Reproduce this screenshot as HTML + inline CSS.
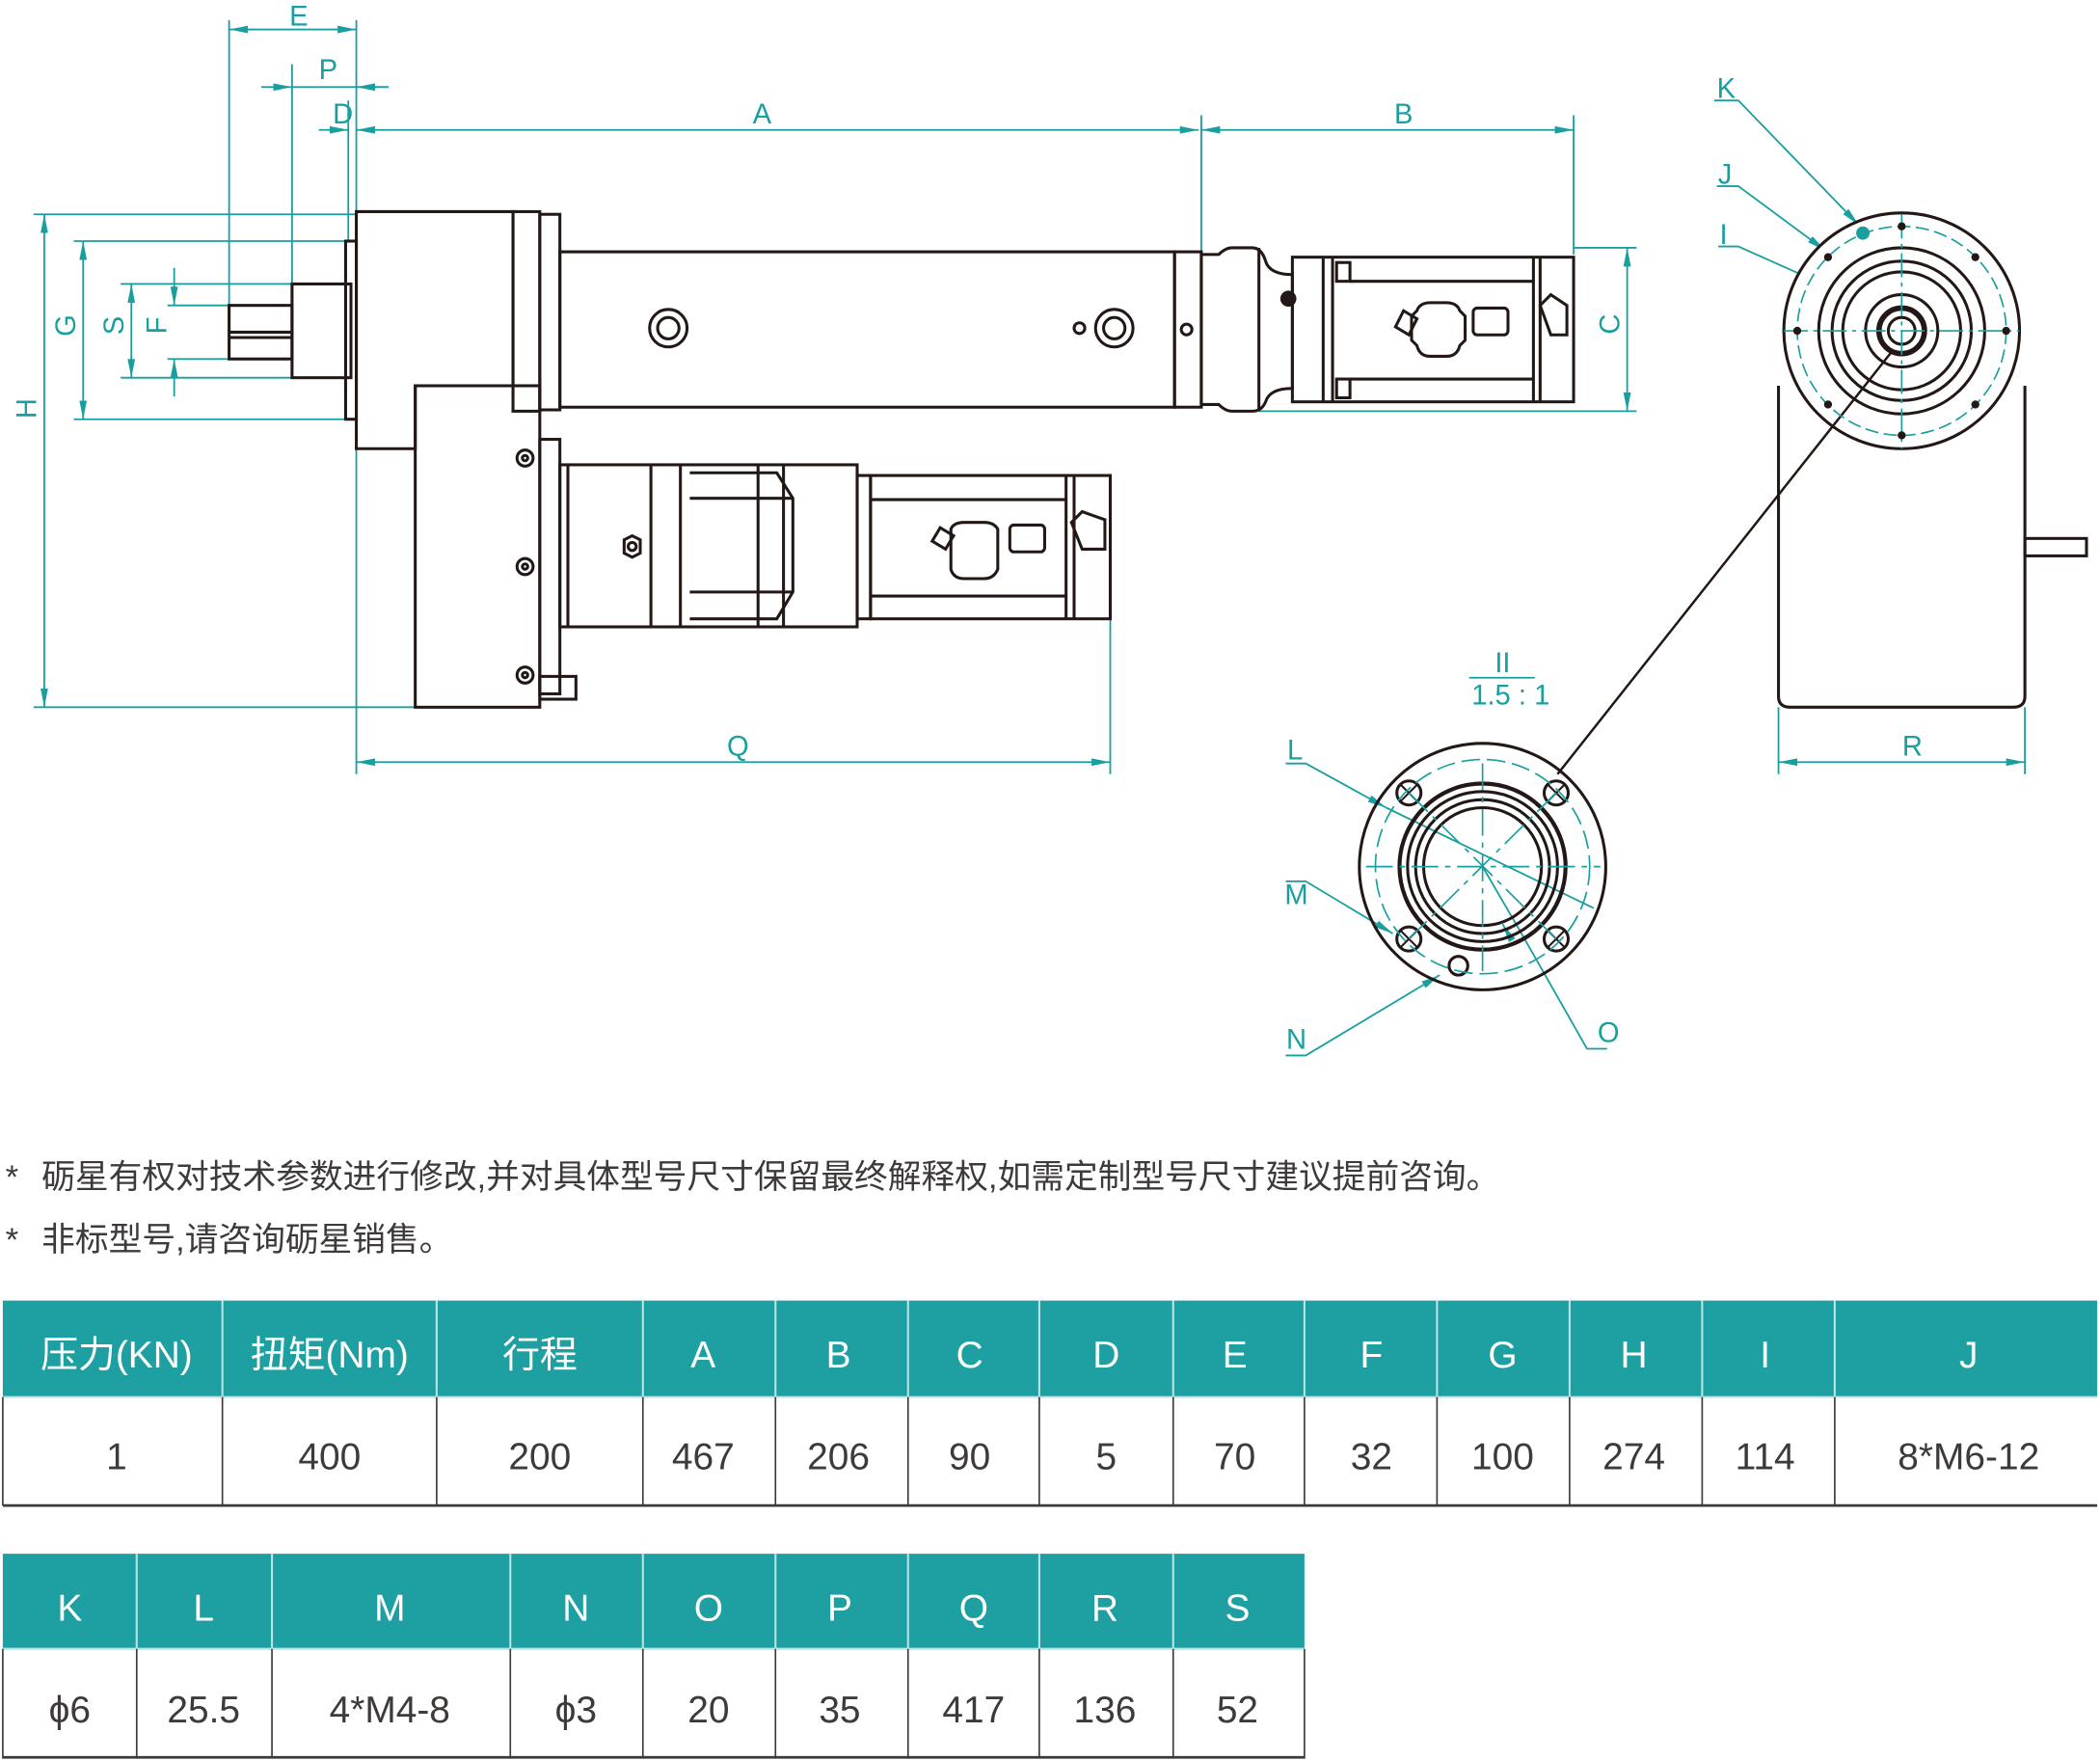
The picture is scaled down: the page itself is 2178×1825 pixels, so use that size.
<!DOCTYPE html>
<html><head><meta charset="utf-8"><style>
html,body{margin:0;padding:0;background:#fff;}
svg{display:block;}
text{font-family:"Liberation Sans","Noto Sans CJK SC",sans-serif;}
</style></head><body>
<svg width="2178" height="1825" viewBox="0 0 1568 1314" xmlns="http://www.w3.org/2000/svg">
<defs>
<marker id="ar" viewBox="0 0 10 4" refX="10" refY="2" markerWidth="14" markerHeight="5.6" markerUnits="userSpaceOnUse" orient="auto-start-reverse"><path d="M0,0L10,2L0,4z" fill="#1a9fa0"/></marker>
</defs>
<rect width="1568" height="1314" fill="#fff"/>
<g stroke="#1a9fa0" stroke-width="1.3" fill="none">
<line x1="171" y1="15" x2="171" y2="228"/>
<line x1="266" y1="15" x2="266" y2="578"/>
<line x1="218" y1="48" x2="218" y2="212"/>
<line x1="260" y1="75" x2="260" y2="180"/>
<line x1="171" y1="22" x2="266" y2="22" marker-start="url(#ar)" marker-end="url(#ar)"/>
<line x1="195" y1="65" x2="218" y2="65" marker-end="url(#ar)"/>
<line x1="218" y1="65" x2="290" y2="65"/>
<line x1="290" y1="65" x2="266" y2="65" marker-end="url(#ar)"/>
<line x1="238" y1="97" x2="260" y2="97" marker-end="url(#ar)"/>
<line x1="266" y1="97" x2="895" y2="97" marker-start="url(#ar)" marker-end="url(#ar)"/>
<line x1="897" y1="97" x2="1175" y2="97" marker-start="url(#ar)" marker-end="url(#ar)"/>
<line x1="897" y1="86" x2="897" y2="190"/>
<line x1="1175" y1="86" x2="1175" y2="190"/>
<line x1="25" y1="160" x2="266" y2="160"/>
<line x1="25" y1="528" x2="310" y2="528"/>
<line x1="33" y1="160" x2="33" y2="528" marker-start="url(#ar)" marker-end="url(#ar)"/>
<line x1="55" y1="180" x2="260" y2="180"/>
<line x1="55" y1="313" x2="262" y2="313"/>
<line x1="62" y1="180" x2="62" y2="313" marker-start="url(#ar)" marker-end="url(#ar)"/>
<line x1="90" y1="212" x2="218" y2="212"/>
<line x1="90" y1="282" x2="218" y2="282"/>
<line x1="98" y1="212" x2="98" y2="282" marker-start="url(#ar)" marker-end="url(#ar)"/>
<line x1="125" y1="228" x2="171" y2="228"/>
<line x1="125" y1="268" x2="171" y2="268"/>
<line x1="130" y1="200" x2="130" y2="228" marker-end="url(#ar)"/>
<line x1="130" y1="296" x2="130" y2="268" marker-end="url(#ar)"/>
<line x1="829" y1="460" x2="829" y2="578"/>
<line x1="266" y1="569" x2="829" y2="569" marker-start="url(#ar)" marker-end="url(#ar)"/>
<line x1="1175" y1="185" x2="1222" y2="185"/>
<line x1="940" y1="307" x2="1222" y2="307"/>
<line x1="1215" y1="185" x2="1215" y2="307" marker-start="url(#ar)" marker-end="url(#ar)"/>
<line x1="1328" y1="528" x2="1328" y2="578"/>
<line x1="1512" y1="528" x2="1512" y2="578"/>
<line x1="1328" y1="569" x2="1512" y2="569" marker-start="url(#ar)" marker-end="url(#ar)"/>
<polyline points="1280,75 1298,75 1388,168" marker-end="url(#ar)"/>
<polyline points="1282,139 1298,139 1363,187" marker-end="url(#ar)"/>
<polyline points="1283,184 1298,184 1345,205"/>
<line x1="1345" y1="205" x2="1480" y2="262"/>
<polyline points="960,570 975,570 1035,603" marker-end="url(#ar)"/>
<line x1="1035" y1="603" x2="1190" y2="678"/>
<polyline points="960,658 975,658 1040,697" marker-end="url(#ar)"/>
<polyline points="960,788 975,788 1075,728" marker-end="url(#ar)"/>
<polyline points="1200,783 1185,783 1135,695" />
<line x1="1135" y1="695" x2="1107" y2="647"/>
<line x1="1122" y1="690" x2="1129" y2="702" marker-start="url(#ar)"/>
<line x1="1097" y1="506" x2="1146" y2="506"/>
</g>
<g fill="#1a9fa0" font-size="21" text-anchor="middle">
<text x="223" y="19">E</text><text x="245" y="59">P</text><text x="256" y="92">D</text>
<text x="569" y="92">A</text><text x="1048" y="92">B</text><text x="551" y="564">Q</text>
<text x="1428" y="564">R</text>
<text transform="translate(27,305) rotate(-90)">H</text>
<text transform="translate(56,243) rotate(-90)">G</text>
<text transform="translate(92,243) rotate(-90)">S</text>
<text transform="translate(124,243) rotate(-90)">F</text>
<text transform="translate(1209,242) rotate(-90)">C</text>
<text x="1289" y="73">K</text><text x="1288" y="137">J</text><text x="1287" y="182">I</text>
<text x="967" y="567">L</text><text x="968" y="675">M</text><text x="968" y="783">N</text><text x="1201" y="778">O</text>
<text x="1122" y="502">II</text><text x="1128" y="526">1.5 : 1</text>
</g>
<g stroke="#231815" stroke-width="2.2" fill="none">
<rect x="171" y="228" width="47" height="40"/>
<line x1="171" y1="248" x2="218" y2="248"/><line x1="171" y1="252" x2="218" y2="252"/>
<rect x="218" y="212" width="44" height="70"/>
<rect x="258" y="180" width="8" height="133"/>
<path d="M266,158H383V288H310V335H266Z"/>
<rect x="383" y="158" width="20" height="149"/>
<rect x="403" y="160" width="15" height="146"/>
<rect x="418" y="188" width="459" height="116"/>
<circle cx="499" cy="245" r="14"/><circle cx="499" cy="245" r="8"/>
<circle cx="832" cy="245" r="14"/><circle cx="832" cy="245" r="8"/>
<circle cx="806" cy="245" r="4"/>
<rect x="877" y="188" width="20" height="116"/>
<circle cx="886" cy="246" r="4"/>
<path d="M897,190 L910,190 Q915,185 920,185 H935 Q942,185 945,195 Q948,205 965,205 V290 Q948,290 945,300 Q942,307 935,307 H920 Q915,307 910,302 H897Z"/>
<line x1="940" y1="185" x2="940" y2="307"/>
<rect x="965" y="192" width="210" height="108"/>
<line x1="988" y1="192" x2="988" y2="300"/><line x1="995" y1="192" x2="995" y2="300"/>
<line x1="1008" y1="210" x2="1145" y2="210"/><line x1="1008" y1="283" x2="1145" y2="283"/>
<line x1="1145" y1="192" x2="1145" y2="300"/><line x1="1150" y1="192" x2="1150" y2="300"/>
<rect x="998" y="196" width="10" height="14"/><rect x="998" y="283" width="10" height="14"/>
<path d="M1058,232 Q1060,226 1068,226 H1080 Q1088,226 1090,232 L1094,236 V254 L1090,258 Q1088,266 1080,266 H1068 Q1060,266 1058,258 L1054,254 V236Z"/>
<rect x="1100" y="230" width="26" height="20" rx="3"/>
<path d="M1042,244 L1048,232 L1058,238 L1052,250Z"/>
<path d="M1150,228 L1158,220 L1170,228 V250 H1158Z"/>
<rect x="310" y="288" width="93" height="240"/>
<rect x="403" y="328" width="15" height="190"/>
<circle cx="392" cy="342" r="6"/><circle cx="392" cy="342" r="2"/>
<circle cx="392" cy="423" r="6"/><circle cx="392" cy="423" r="2"/>
<circle cx="392" cy="504" r="6"/><circle cx="392" cy="504" r="2"/>
<rect x="403" y="505" width="27" height="17"/>
<rect x="418" y="347" width="222" height="121"/>
<line x1="424" y1="347" x2="424" y2="468"/>
<line x1="486" y1="347" x2="486" y2="468"/><line x1="508" y1="347" x2="508" y2="468"/>
<line x1="566" y1="347" x2="566" y2="468"/><line x1="585" y1="347" x2="585" y2="468"/>
<path d="M515,353H580L592,372V442L580,462H515"/>
<line x1="515" y1="372" x2="592" y2="372"/><line x1="515" y1="442" x2="592" y2="442"/>
<polygon points="466,403 472,400 478,403 478,413 472,416 466,413"/><circle cx="472" cy="408" r="3"/>
<rect x="640" y="355" width="10" height="107"/>
<rect x="650" y="355" width="179" height="107"/>
<line x1="650" y1="373" x2="796" y2="373"/><line x1="650" y1="445" x2="796" y2="445"/>
<line x1="796" y1="355" x2="796" y2="462"/><line x1="802" y1="355" x2="802" y2="462"/>
<path d="M710,395 Q712,390 720,390 H735 Q742,390 745,395 V425 Q742,432 735,432 H720 Q712,432 710,425Z"/>
<rect x="754" y="392" width="26" height="20" rx="3"/>
<path d="M696,404 L702,394 L712,400 L706,410Z"/>
<path d="M800,390 L808,382 L825,388 V410 H808Z"/>
<path d="M1328,288 V520 Q1328,528 1337,528 H1503 Q1512,528 1512,520 V288"/>
<rect x="1512" y="402" width="46" height="13"/>
<circle cx="1420" cy="247" r="88" fill="#fff"/>
<circle cx="1420" cy="247" r="62"/><circle cx="1420" cy="247" r="52"/>
<circle cx="1420" cy="247" r="44"/><circle cx="1420" cy="247" r="27"/>
<circle cx="1420" cy="247" r="17" stroke-width="4"/><circle cx="1420" cy="247" r="10"/>
<line x1="1413" y1="262" x2="1163" y2="578" stroke-width="1.8"/>
<circle cx="1107" cy="647" r="92"/>
<circle cx="1107" cy="647" r="62" stroke-width="3"/><circle cx="1107" cy="647" r="56"/>
<circle cx="1107" cy="647" r="50"/><circle cx="1107" cy="647" r="44"/>
<circle cx="1052" cy="592" r="9"/><circle cx="1162" cy="592" r="9"/>
<circle cx="1052" cy="701" r="9"/><circle cx="1162" cy="701" r="9"/>
<path d="M1046,586l12,12M1058,586l-12,12M1156,586l12,12M1168,586l-12,12M1046,695l12,12M1058,695l-12,12M1156,695l12,12M1168,695l-12,12" stroke-width="1.5"/>
<circle cx="1089" cy="721" r="7"/>
</g>
<g stroke="#1a9fa0" stroke-width="1.2" fill="none">
<circle cx="1420" cy="247" r="78" stroke-dasharray="10 4"/>
<line x1="1332" y1="247" x2="1508" y2="247" stroke-dasharray="18 4 3 4"/>
<line x1="1420" y1="160" x2="1420" y2="335" stroke-dasharray="18 4 3 4"/>
<circle cx="1107" cy="647" r="80" stroke-dasharray="14 5"/>
<line x1="1020" y1="647" x2="1195" y2="647" stroke-dasharray="20 5 4 5"/>
<line x1="1107" y1="570" x2="1107" y2="725" stroke-dasharray="20 5 4 5"/>
<line x1="1052" y1="592" x2="1162" y2="701" stroke-dasharray="20 5 4 5"/>
<line x1="1162" y1="592" x2="1052" y2="701" stroke-dasharray="20 5 4 5"/>
</g>
<g fill="#231815">
<circle cx="1420" cy="169" r="3"/><circle cx="1420" cy="325" r="3"/><circle cx="1342" cy="247" r="3"/><circle cx="1498" cy="247" r="3"/>
<circle cx="1365" cy="192" r="3"/><circle cx="1475" cy="192" r="3"/><circle cx="1365" cy="302" r="3"/><circle cx="1475" cy="302" r="3"/>
<circle cx="962" cy="223" r="6"/>
</g>
<circle cx="1391" cy="174" r="5" fill="#1a9fa0"/>
<g fill="#3e3a39" font-size="25">
<text x="4" y="887">*</text><text x="31" y="887">砺星有权对技术参数进行修改,并对具体型号尺寸保留最终解释权,如需定制型号尺寸建议提前咨询。</text>
<text x="4" y="934">*</text><text x="31" y="934">非标型号,请咨询砺星销售。</text>
</g>
<rect x="2" y="971" width="1564" height="72" fill="#1ea0a3"/>
<g stroke="#b9e3e4" stroke-width="1.5">
<line x1="166" y1="971" x2="166" y2="1043"/><line x1="326" y1="971" x2="326" y2="1043"/><line x1="480" y1="971" x2="480" y2="1043"/><line x1="579" y1="971" x2="579" y2="1043"/><line x1="678" y1="971" x2="678" y2="1043"/><line x1="776" y1="971" x2="776" y2="1043"/><line x1="876" y1="971" x2="876" y2="1043"/><line x1="974" y1="971" x2="974" y2="1043"/><line x1="1073" y1="971" x2="1073" y2="1043"/><line x1="1172" y1="971" x2="1172" y2="1043"/><line x1="1271" y1="971" x2="1271" y2="1043"/><line x1="1370" y1="971" x2="1370" y2="1043"/>
<line x1="2" y1="1043" x2="1566" y2="1043"/>
</g>
<g stroke="#3e3a39" stroke-width="1.2">
<line x1="2" y1="1043" x2="2" y2="1124"/><line x1="166" y1="1043" x2="166" y2="1124"/><line x1="326" y1="1043" x2="326" y2="1124"/><line x1="480" y1="1043" x2="480" y2="1124"/><line x1="579" y1="1043" x2="579" y2="1124"/><line x1="678" y1="1043" x2="678" y2="1124"/><line x1="776" y1="1043" x2="776" y2="1124"/><line x1="876" y1="1043" x2="876" y2="1124"/><line x1="974" y1="1043" x2="974" y2="1124"/><line x1="1073" y1="1043" x2="1073" y2="1124"/><line x1="1172" y1="1043" x2="1172" y2="1124"/><line x1="1271" y1="1043" x2="1271" y2="1124"/><line x1="1370" y1="1043" x2="1370" y2="1124"/>
<line x1="2" y1="1124" x2="1566" y2="1124" stroke-width="2"/>
</g>
<g fill="#fff" font-size="28" text-anchor="middle">
<text x="87" y="1021">压力(KN)</text><text x="246" y="1021">扭矩(Nm)</text><text x="403" y="1021">行程</text>
<text x="525" y="1021">A</text><text x="626" y="1021">B</text><text x="724" y="1021">C</text><text x="826" y="1021">D</text><text x="922" y="1021">E</text><text x="1024" y="1021">F</text><text x="1122" y="1021">G</text><text x="1220" y="1021">H</text><text x="1318" y="1021">I</text><text x="1470" y="1021">J</text>
</g>
<g fill="#3e3a39" font-size="28" text-anchor="middle">
<text x="87" y="1097">1</text><text x="246" y="1097">400</text><text x="403" y="1097">200</text>
<text x="525" y="1097">467</text><text x="626" y="1097">206</text><text x="724" y="1097">90</text><text x="826" y="1097">5</text><text x="922" y="1097">70</text><text x="1024" y="1097">32</text><text x="1122" y="1097">100</text><text x="1220" y="1097">274</text><text x="1318" y="1097">114</text><text x="1470" y="1097">8*M6-12</text>
</g>
<rect x="2" y="1160" width="972" height="71" fill="#1ea0a3"/>
<g stroke="#b9e3e4" stroke-width="1.5">
<line x1="102" y1="1160" x2="102" y2="1231"/><line x1="203" y1="1160" x2="203" y2="1231"/><line x1="381" y1="1160" x2="381" y2="1231"/><line x1="480" y1="1160" x2="480" y2="1231"/><line x1="579" y1="1160" x2="579" y2="1231"/><line x1="678" y1="1160" x2="678" y2="1231"/><line x1="776" y1="1160" x2="776" y2="1231"/><line x1="876" y1="1160" x2="876" y2="1231"/>
<line x1="2" y1="1231" x2="974" y2="1231"/>
</g>
<g stroke="#3e3a39" stroke-width="1.2">
<line x1="2" y1="1231" x2="2" y2="1313"/><line x1="102" y1="1231" x2="102" y2="1313"/><line x1="203" y1="1231" x2="203" y2="1313"/><line x1="381" y1="1231" x2="381" y2="1313"/><line x1="480" y1="1231" x2="480" y2="1313"/><line x1="579" y1="1231" x2="579" y2="1313"/><line x1="678" y1="1231" x2="678" y2="1313"/><line x1="776" y1="1231" x2="776" y2="1313"/><line x1="876" y1="1231" x2="876" y2="1313"/><line x1="974" y1="1231" x2="974" y2="1313"/>
<line x1="2" y1="1312" x2="974" y2="1312" stroke-width="2"/>
</g>
<g fill="#fff" font-size="28" text-anchor="middle">
<text x="52" y="1210">K</text><text x="152" y="1210">L</text><text x="291" y="1210">M</text><text x="430" y="1210">N</text><text x="529" y="1210">O</text><text x="627" y="1210">P</text><text x="727" y="1210">Q</text><text x="825" y="1210">R</text><text x="924" y="1210">S</text>
</g>
<g fill="#3e3a39" font-size="28" text-anchor="middle">
<text x="52" y="1286">ϕ6</text><text x="152" y="1286">25.5</text><text x="291" y="1286">4*M4-8</text><text x="430" y="1286">ϕ3</text><text x="529" y="1286">20</text><text x="627" y="1286">35</text><text x="727" y="1286">417</text><text x="825" y="1286">136</text><text x="924" y="1286">52</text>
</g>
</svg>
</body></html>
